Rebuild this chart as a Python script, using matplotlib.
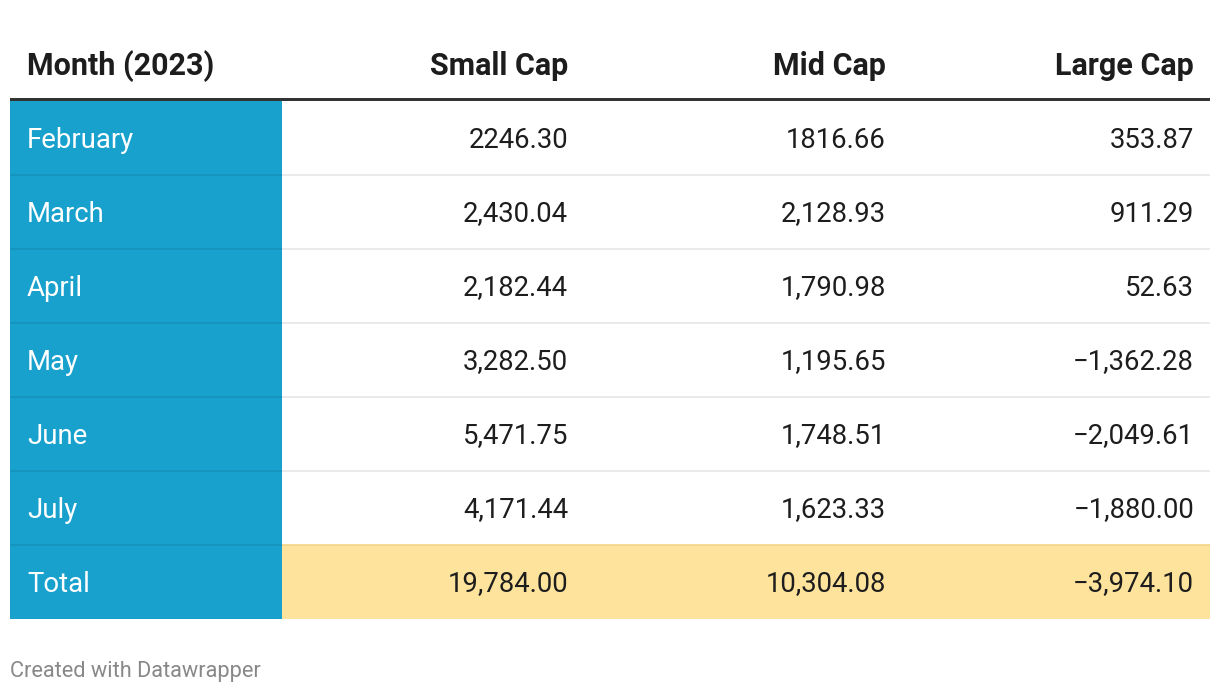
import matplotlib.pyplot as plt
from matplotlib.patches import Rectangle

plt.rcParams['font.family'] = ['Roboto', 'DejaVu Sans']

# table data
header = ['Month (2023)', 'Small Cap', 'Mid Cap', 'Large Cap']
months = ['February', 'March', 'April', 'May', 'June', 'July', 'Total']
small_cap = [2246.30, 2430.04, 2182.44, 3282.50, 5471.75, 4171.44, 19784.00]
mid_cap = [1816.66, 2128.93, 1790.98, 1195.65, 1748.51, 1623.33, 10304.08]
large_cap = [353.87, 911.29, 52.63, -1362.28, -2049.61, -1880.00, -3974.10]
# the February row is shown without thousands separators in the source
use_sep = [False, True, True, True, True, True, True]


def fmt(v, sep):
    s = f'{abs(v):,.2f}' if sep else f'{abs(v):.2f}'
    return ('\u2212' + s) if v < 0 else s


W, H = 1220, 694
fig = plt.figure(figsize=(W / 100, H / 100), dpi=100)
ax = fig.add_axes([0, 0, 1, 1])
ax.set_xlim(0, W)
ax.set_ylim(H, 0)
ax.axis('off')

blue = '#18a1cd'
yellow = '#fee39d'
left, right = 10, 1210
first_w = 272
top = 101
row_h = 74
col_right = [568, 886, 1194]
text_col = '#1d1d1d'
hdr_size = 22
body_size = 19.8

# header
ax.text(27, 66, header[0], fontsize=hdr_size, fontweight='bold', color=text_col,
        ha='left', va='center')
for xr, h in zip(col_right, header[1:]):
    ax.text(xr, 66, h, fontsize=hdr_size, fontweight='bold', color=text_col,
            ha='right', va='center')
ax.add_patch(Rectangle((left, 98), right - left, 3, color='#333333', lw=0))

for i, m in enumerate(months):
    y0 = top + row_h * i
    ax.add_patch(Rectangle((left, y0), first_w, row_h, color=blue, lw=0))
    if m == 'Total':
        ax.add_patch(Rectangle((left + first_w, y0), right - left - first_w, row_h,
                               color=yellow, lw=0))
    yc = y0 + row_h / 2 + 2
    ax.text(27, yc, m, fontsize=body_size, color='white', ha='left', va='center')
    for xr, series in zip(col_right, [small_cap, mid_cap, large_cap]):
        ax.text(xr, yc, fmt(series[i], use_sep[i]), fontsize=body_size,
                color=text_col, ha='right', va='center')
    # row separator
    if i > 0:
        line_col = '#f0d488' if m == 'Total' else '#e6e6e6'
        ax.plot([left + first_w, right], [y0, y0], color=line_col, lw=1.2,
                solid_capstyle='butt')
        ax.plot([left, left + first_w], [y0, y0], color='#1592bb', lw=1.2,
                solid_capstyle='butt')

ax.text(10, 671, 'Created with Datawrapper', fontsize=15.7, color='#888888',
        ha='left', va='center')

fig.savefig('out.png', dpi=100, facecolor='white')
